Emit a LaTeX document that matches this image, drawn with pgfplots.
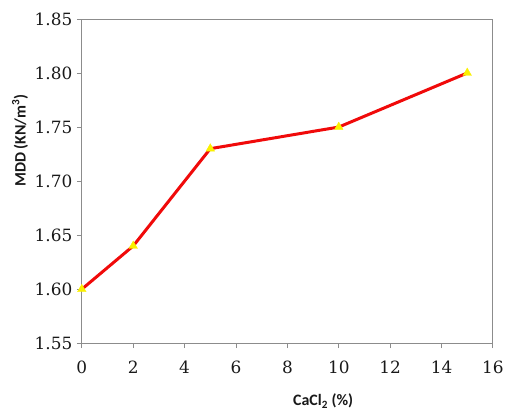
\documentclass[border=0pt]{standalone}
\usepackage{fontspec}
\setmainfont{DejaVu Serif}
\newfontfamily\labelfont{Carlito}
\usepackage{pgfplots}
\pgfplotsset{compat=1.18}
\definecolor{axisgray}{RGB}{140,140,140}
\definecolor{linered}{RGB}{240,10,10}
\definecolor{markyellow}{RGB}{250,240,0}
\begin{document}
\begin{tikzpicture}[x=1bp,y=1bp]
\begin{axis}[
    at={(0,0)}, anchor=south west,
    scale only axis,
    width=412bp, height=325bp,
    xmin=0, xmax=16, ymin=1.55, ymax=1.85,
    xtick={0,2,...,16},
    ytick={1.55,1.60,...,1.851},
    yticklabel style={/pgf/number format/fixed,
        /pgf/number format/fixed zerofill,
        /pgf/number format/precision=2},
    /pgf/number format/assume math mode=true,
    ticklabel style={font=\fontsize{17}{17}\selectfont, text=black!90},
    xticklabel style={yshift=-9bp},
    yticklabel style={xshift=-1bp},
    axis line style={axisgray, line width=0.9bp},
    tick style={axisgray, line width=0.9bp},
    tick align=outside, major tick length=5bp,
    xtick pos=bottom, ytick pos=left,
    xlabel={CaCl\textsubscript{2} (\%)},
    ylabel={MDD (KN/m\textsuperscript{3})},
    label style={font=\labelfont\bfseries\fontsize{16}{16}\selectfont, text=black!90},
    xlabel style={at={(axis description cs:0.587,-0.178)}, anchor=center},
    ylabel style={at={(axis description cs:-0.150,0.625)}, anchor=center},
    clip=false,
]
\addplot[linered, line width=3bp, mark=triangle*, mark size=5bp,
    mark options={fill=markyellow, draw=markyellow, line width=0.3bp}]
  coordinates {(0,1.60) (2,1.64) (5,1.73) (10,1.75) (15,1.80)};
\end{axis}
\path[use as bounding box] (-82,-65) rectangle (425,344);
\end{tikzpicture}
\end{document}
